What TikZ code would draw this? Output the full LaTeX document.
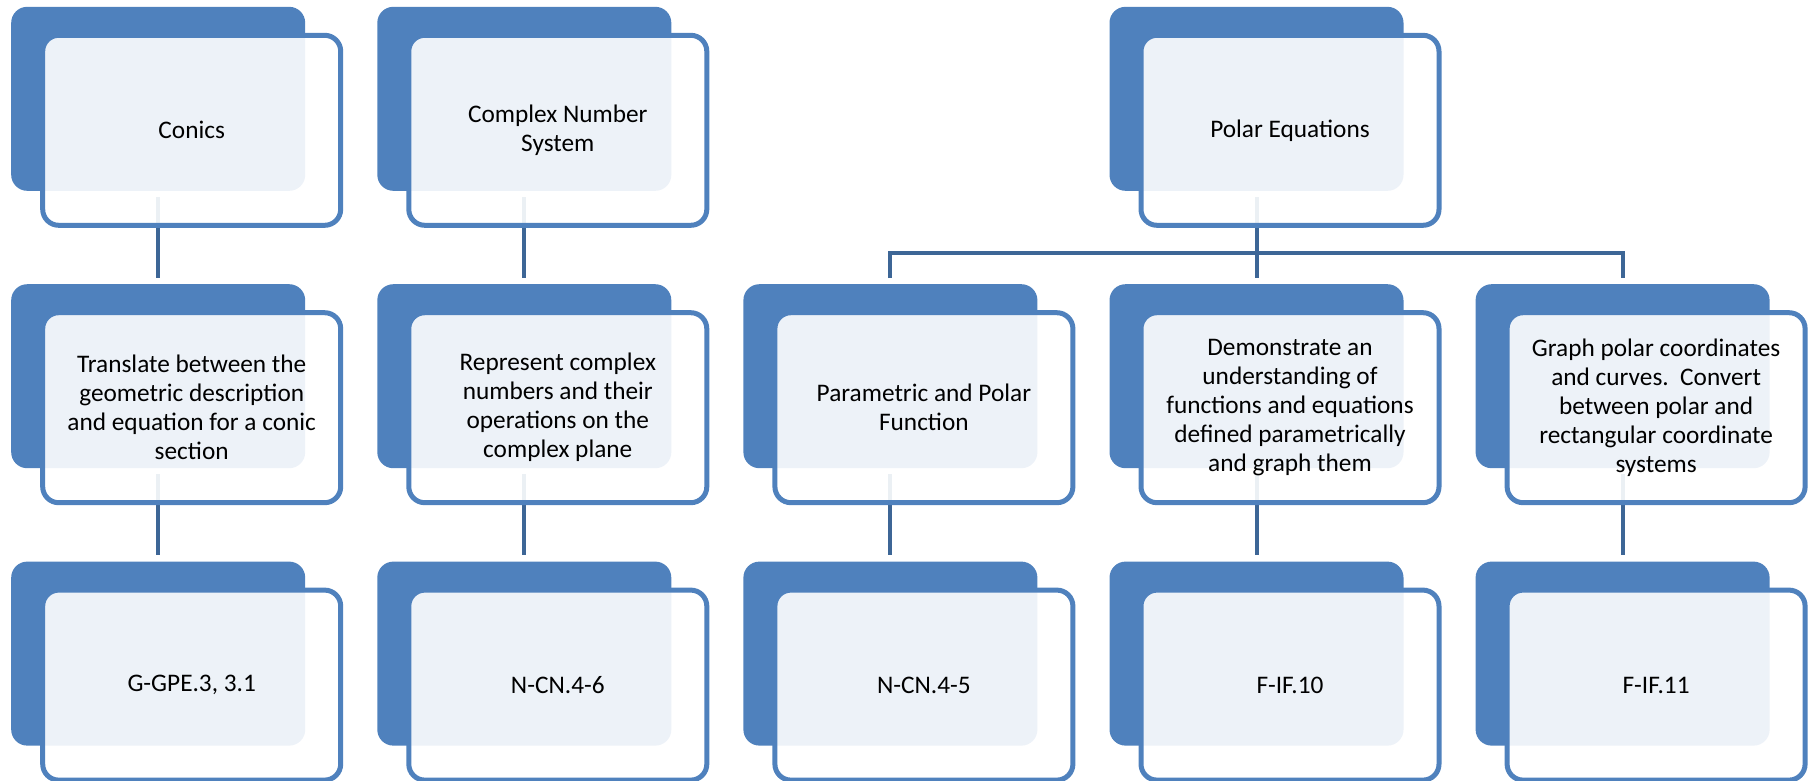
\documentclass[tikz,border=0pt]{standalone}
\usepackage{fontspec}
\setmainfont{Carlito}
\usepackage{tikz}
\usetikzlibrary{positioning,backgrounds}
\definecolor{boxblue}{HTML}{4F81BD}
\definecolor{linkblue}{HTML}{3D6696}

\begin{document}
\begin{tikzpicture}[
  x=1pt,y=1pt,
  node distance=93pt and 71.7pt,
  every node/.style={font=\fontsize{25.3}{29}\selectfont,align=center,inner sep=0pt},
  backbox/.style={fill=boxblue,rounded corners=16pt,minimum width=294pt,minimum height=184pt},
  frontbox/.style={draw=boxblue,line width=5pt,fill=white,fill opacity=0.9,text opacity=1,rounded corners=16pt,minimum width=298pt,minimum height=190pt,xshift=33.5pt,yshift=-31.5pt},
  link/.style={draw=linkblue,line width=4pt,shorten <=6pt,shorten >=6pt}
]
\useasboundingbox (0,0) rectangle (1810,-780);
% middle row
\node[backbox,anchor=north west] (transbk) at (11,-284) {};
\node[frontbox] (trans) at (transbk) {Translate between the\\geometric description\\and equation for a conic\\section};
\node[backbox,right=of transbk] (reprbk) {};
\node[frontbox] (repr) at (reprbk) {Represent complex\\numbers and their\\operations on the\\complex plane};
\node[backbox,right=of reprbk] (parabk) {};
\node[frontbox] (para) at (parabk) {Parametric and Polar\\Function};
\node[backbox,right=of parabk] (demobk) {};
\node[frontbox] (demo) at (demobk) {Demonstrate an\\understanding of\\functions and equations\\defined parametrically\\and graph them};
\node[backbox,right=of demobk] (graphbk) {};
\node[frontbox] (graph) at (graphbk) {Graph polar coordinates\\and curves.\ \ Convert\\between polar and\\rectangular coordinate\\systems};
% top row
\node[backbox,above=of transbk] (conicsbk) {};
\node[frontbox] (conics) at (conicsbk) {Conics};
\node[backbox,above=of reprbk] (complexbk) {};
\node[frontbox] (complex) at (complexbk) {Complex Number\\System};
\node[backbox,above=of demobk] (polarbk) {};
\node[frontbox] (polar) at (polarbk) {Polar Equations};
% bottom row
\node[backbox,below=of transbk] (gpebk) {};
\node[frontbox] (gpe) at (gpebk) {G-GPE.3, 3.1};
\node[backbox,below=of reprbk] (cnsixbk) {};
\node[frontbox] (cnsix) at (cnsixbk) {N-CN.4-6};
\node[backbox,below=of parabk] (cnfivebk) {};
\node[frontbox] (cnfive) at (cnfivebk) {N-CN.4-5};
\node[backbox,below=of demobk] (iftenbk) {};
\node[frontbox] (iften) at (iftenbk) {F-IF.10};
\node[backbox,below=of graphbk] (ifelevenbk) {};
\node[frontbox] (ifeleven) at (ifelevenbk) {F-IF.11};
\coordinate[below=62pt of polarbk.south] (fork);
\begin{scope}[on background layer]
\draw[link] (conicsbk.south) -- (transbk.north);
\draw[link] (complexbk.south) -- (reprbk.north);
\draw[link] (polarbk.south) -- (demobk.north);
\draw[link] (parabk.north) |- (fork) -| (graphbk.north);
\draw[link] (transbk.south) -- (gpebk.north);
\draw[link] (reprbk.south) -- (cnsixbk.north);
\draw[link] (parabk.south) -- (cnfivebk.north);
\draw[link] (demobk.south) -- (iftenbk.north);
\draw[link] (graphbk.south) -- (ifelevenbk.north);
\end{scope}
\end{tikzpicture}
\end{document}
